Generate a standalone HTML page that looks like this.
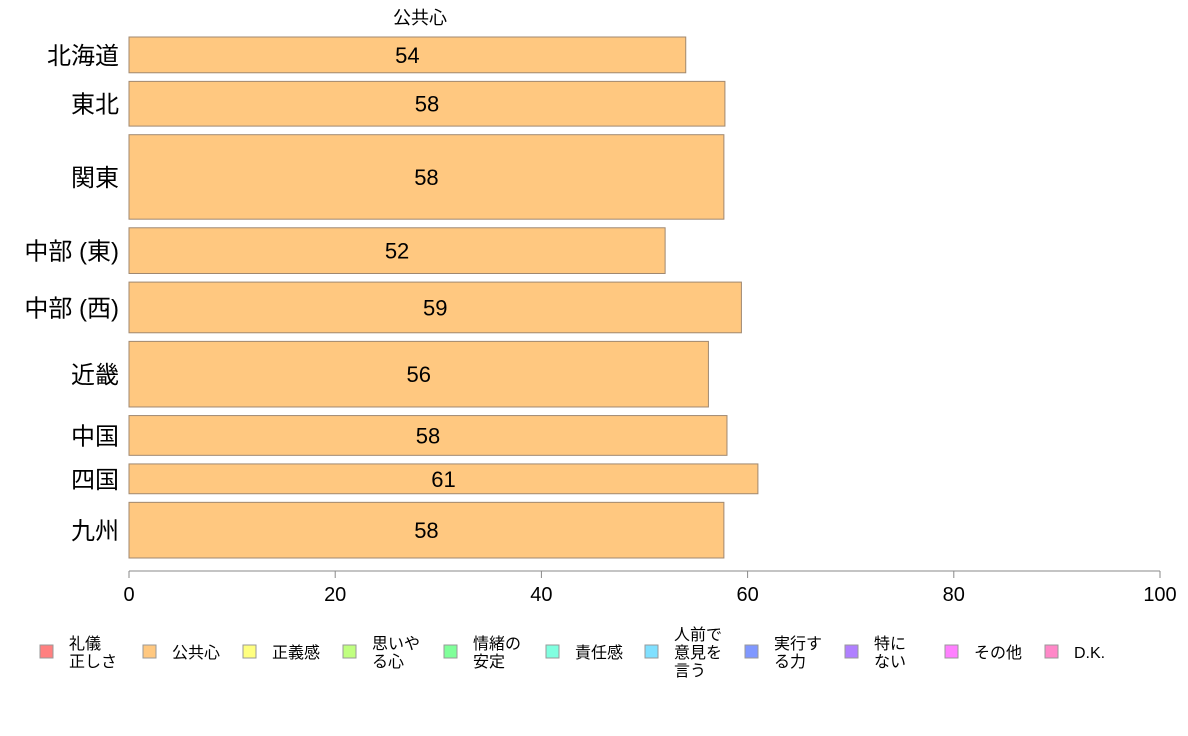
<!DOCTYPE html>
<html><head><meta charset="utf-8">
<style>
body{margin:0;background:#fff;}
svg{display:block;font-family:"Liberation Sans","Noto Sans CJK JP",sans-serif;}
</style></head>
<body>
<svg id="chart" width="1188" height="736" xmlns="http://www.w3.org/2000/svg">
<text x="420" y="24" font-size="18" text-anchor="middle">公共心</text>
<g id="bars"></g>
<g id="axis"></g>
<g id="legend"></g>
</svg>
<script>
const regions = ["北海道","東北","関東","中部 (東)","中部 (西)","近畿","中国","四国","九州"];
const values = [54, 57.8, 57.7, 52, 59.4, 56.2, 58, 61, 57.7];
const sampleWeights = [36, 45, 85, 46, 51, 66, 40, 30, 56];
const xTicks = [0, 20, 40, 60, 80, 100];
const legendLabels = [["礼儀","正しさ"],["公共心"],["正義感"],["思いや","る心"],["情緒の","安定"],["責任感"],["人前で","意見を","言う"],["実行す","る力"],["特に","ない"],["その他"],["D.K."]];
const legendColors = ["#ff8080","#ffc880","#ffff80","#c0ff80","#80ff9a","#80ffe0","#80e0ff","#8098ff","#b080ff","#ff80ff","#ff88c8"];

const NS="http://www.w3.org/2000/svg";
function mk(t,a,p){const e=document.createElementNS(NS,t);for(const k in a)e.setAttribute(k,a[k]);p.appendChild(e);return e;}
const x0=129,x1=1160,yTop=37,yBot=558,gap=8.6;
const xs=v=>x0+(v-0)/(100-0)*(x1-x0);
const totalW=sampleWeights.reduce((a,b)=>a+b,0);
const avail=(yBot-yTop)-gap*(regions.length-1);
const bars=document.getElementById('bars');
let y=yTop;
regions.forEach((r,i)=>{
  const h=sampleWeights[i]/totalW*avail;
  const rect=mk('rect',{x:x0,y:y,width:xs(values[i])-x0,height:h,fill:'#ffc880',stroke:'#a08870','stroke-width':1},bars);
  
  
  const lab=mk('text',{x:(x0+xs(values[i]))/2,y:y+h/2+8,'font-size':22,'text-anchor':'middle'},bars);
  lab.textContent=Math.round(values[i]);
  
  
  const cat=mk('text',{x:119,y:y+h/2+9,'font-size':24,'text-anchor':'end'},bars);
  cat.textContent=r;
  
  
  y+=h+gap;
});
const axis=document.getElementById('axis');
const line=mk('line',{x1:x0,y1:571,x2:x1,y2:571,stroke:'#888','stroke-width':1},axis);


xTicks.forEach(t=>{
  const tk=mk('line',{x1:xs(t),y1:571,x2:xs(t),y2:578,stroke:'#888'},axis);
  
  
  const tl=mk('text',{x:xs(t),y:601,'font-size':20,'text-anchor':'middle'},axis);
  tl.textContent=t;
  
  
});
const leg=document.getElementById('legend');
const sw=[40,143,243,343,444,546,645,745,845,945,1045];
legendLabels.forEach((lines,i)=>{
  const g=mk('g',{},leg);
  
  
  mk('rect',{x:sw[i],y:645,width:13,height:13,fill:legendColors[i],stroke:'#999'},g);
  const n=lines.length;
  const startY=652-(n-1)*18/2+6;
  lines.forEach((ln,j)=>{
    const t=mk('text',{x:sw[i]+29,y:startY+j*18,'font-size':16},g);
    t.textContent=ln;
  });
});
</script>
</body></html>
